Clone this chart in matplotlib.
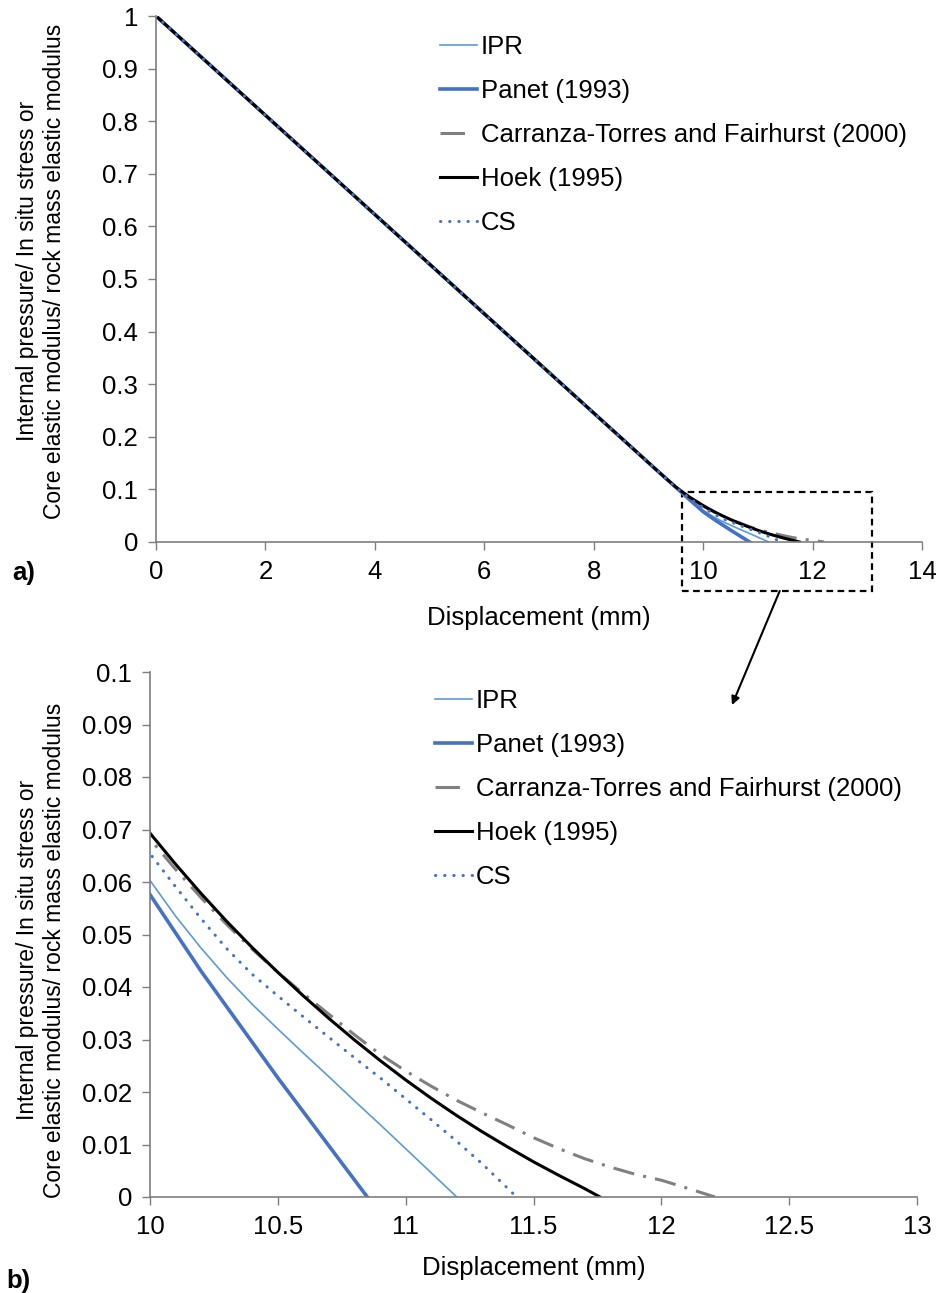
import matplotlib
matplotlib.use("Agg")
import matplotlib.pyplot as plt
from matplotlib.patches import Rectangle

plt.rcParams['font.family'] = ['Liberation Sans', 'DejaVu Sans']
plt.rcParams['font.size'] = 18.5

# curves: displacement (mm) vs internal pressure / in situ stress
ipr_x = [0, 9.2, 9.5, 9.75, 10.0, 10.1, 10.2, 10.3, 10.4, 10.5, 10.6, 10.7, 10.8, 10.9, 11.0, 11.1, 11.2]
ipr_y = [1.0, 0.132, 0.104, 0.0805, 0.0603, 0.0535, 0.0474, 0.0418, 0.0367, 0.0320, 0.0274,
         0.0229, 0.0183, 0.0138, 0.0092, 0.0046, 0.0]

panet_x = [0, 9.2, 9.5, 9.75, 10.0, 10.1, 10.2, 10.5, 10.85]
panet_y = [1.0, 0.132, 0.104, 0.0805, 0.0576, 0.0503, 0.0430, 0.0227, 0.0]

ctf_x = [0, 9.2, 9.5, 9.75, 10.0, 10.1, 10.2, 10.3, 10.4, 10.5, 10.6, 10.7, 10.8, 10.9, 11.0,
         11.1, 11.2, 11.3, 11.4, 11.5, 11.6, 11.7, 11.8, 11.9, 12.0, 12.1, 12.21]
ctf_y = [1.0, 0.132, 0.1045, 0.085, 0.0682, 0.0624, 0.0570, 0.0519, 0.0472, 0.0428, 0.0387,
         0.0348, 0.0309, 0.0272, 0.0240, 0.0211, 0.0184, 0.0160, 0.0137, 0.0113, 0.0092,
         0.0073, 0.0057, 0.0043, 0.0032, 0.0017, 0.0]

hoek_x = [0, 9.2, 9.5, 9.75, 10.0, 10.1, 10.2, 10.3, 10.4, 10.5, 10.6, 10.7, 10.8, 10.9, 11.0,
          11.1, 11.2, 11.3, 11.4, 11.5, 11.6, 11.7, 11.76]
hoek_y = [1.0, 0.132, 0.1045, 0.0855, 0.0693, 0.0634, 0.0578, 0.0525, 0.0475, 0.0428, 0.0383,
          0.0340, 0.0299, 0.0260, 0.0223, 0.0188, 0.0155, 0.0124, 0.0095, 0.0067, 0.0041,
          0.0016, 0.0]

cs_x = [0, 9.2, 9.5, 9.75, 10.0, 10.1, 10.2, 10.3, 10.4, 10.5, 10.6, 10.7, 10.8, 10.9, 11.0,
        11.1, 11.2, 11.3, 11.434]
cs_y = [1.0, 0.132, 0.104, 0.083, 0.0654, 0.0591, 0.0530, 0.0473, 0.0424, 0.0383, 0.0343,
        0.0304, 0.0265, 0.0227, 0.0187, 0.0147, 0.0106, 0.0063, 0.0]

labels = ["IPR", "Panet (1993)", "Carranza-Torres and Fairhurst (2000)", "Hoek (1995)", "CS"]

ylabel = "Internal pressure/ In situ stress or\nCore elastic modulus/ rock mass elastic modulus"

fig = plt.figure(figsize=(9.41, 12.93), dpi=100)
# axes placed in pixels of the 941x1293 figure
ax1 = fig.add_axes([156 / 941, 1 - 542 / 1293, 766 / 941, 526 / 1293])
ax2 = fig.add_axes([150 / 941, 1 - 1197 / 1293, 767 / 941, 525 / 1293])
ax2.patch.set_visible(False)  # so the arrow from panel a) stays visible


def draw_curves(ax):
    ax.plot(ipr_x, ipr_y, color='#5B9BD5', lw=1.2, label=labels[0])
    ax.plot(panet_x, panet_y, color='#4472C4', lw=2.6, label=labels[1])
    ax.plot(ctf_x, ctf_y, color='#808080', lw=2.2, linestyle=(0, (7, 3, 1, 3)), label=labels[2])
    ax.plot(hoek_x, hoek_y, color='black', lw=2.2, label=labels[3])
    ax.plot(cs_x, cs_y, color='#4472C4', lw=2.2, linestyle=(0, (0.1, 2.9)),
            dash_capstyle='round', label=labels[4])


def style_axes(ax):
    for s in ['top', 'right']:
        ax.spines[s].set_visible(False)
    for s in ['left', 'bottom']:
        ax.spines[s].set_color('#7f7f7f')
        ax.spines[s].set_linewidth(1.2)
    ax.tick_params(direction='out', length=6, width=1, color='#7f7f7f', labelsize=18.5, pad=7)


draw_curves(ax1)
ax1.set_xlim(0, 14)
ax1.set_ylim(0, 1)
ax1.set_xticks(range(0, 15, 2))
ax1.set_yticks([i / 10 for i in range(11)])
ax1.set_yticklabels(["0", "0.1", "0.2", "0.3", "0.4", "0.5", "0.6", "0.7", "0.8", "0.9", "1"])
style_axes(ax1)
ax1.set_xlabel("Displacement (mm)", labelpad=16)
ax1.set_ylabel(ylabel, fontsize=16.5)
ax1.yaxis.set_label_coords(-0.1175, 0.515)

draw_curves(ax2)
ax2.set_xlim(10, 13)
ax2.set_ylim(0, 0.1)
ax2.set_xticks([10, 10.5, 11, 11.5, 12, 12.5, 13])
ax2.set_xticklabels(["10", "10.5", "11", "11.5", "12", "12.5", "13"])
ax2.set_yticks([i / 100 for i in range(11)])
ax2.set_yticklabels(["0", "0.01", "0.02", "0.03", "0.04", "0.05", "0.06", "0.07", "0.08", "0.09", "0.1"])
style_axes(ax2)
ax2.set_xlabel("Displacement (mm)", labelpad=12)
ax2.set_ylabel(ylabel, fontsize=16.5)
ax2.yaxis.set_label_coords(-0.1095, 0.47)

leg_kw = dict(frameon=False, loc='upper left', borderpad=0, borderaxespad=0,
              handlelength=1.45, handletextpad=0.15, labelspacing=0.78, fontsize=18.5)
leg1 = ax1.legend(bbox_to_anchor=(440 / 941, 1 - 35 / 1293), bbox_transform=fig.transFigure, **leg_kw)
leg2 = ax2.legend(bbox_to_anchor=(435 / 941, 1 - 689 / 1293), bbox_transform=fig.transFigure, **leg_kw)
for leg in (leg1, leg2):
    # the legend sample for the dash-dot curve shows a single dash
    leg.get_lines()[2].set_linestyle((0, (8, 10)))

# zoom box and arrow
ax1.add_patch(Rectangle((9.61, -0.093), 13.08 - 9.61, 0.0956 + 0.093, fill=False,
                        edgecolor='black', linestyle=(0, (3, 2)), lw=1.6, clip_on=False))
ax1.annotate('', xy=(732 / 941, 1 - 705 / 1293), xycoords='figure fraction',
             xytext=(11.40, -0.093), textcoords='data',
             arrowprops=dict(arrowstyle='-|>', color='black', lw=1.5, mutation_scale=12,
                             shrinkA=0, shrinkB=0))

fig.text(12 / 941, 1 - 573 / 1293, "a)", fontsize=18.5, fontweight='bold', va='center')
fig.text(6 / 941, 1 - 1281 / 1293, "b)", fontsize=18.5, fontweight='bold', va='center')

fig.savefig("out.png", dpi=100)
